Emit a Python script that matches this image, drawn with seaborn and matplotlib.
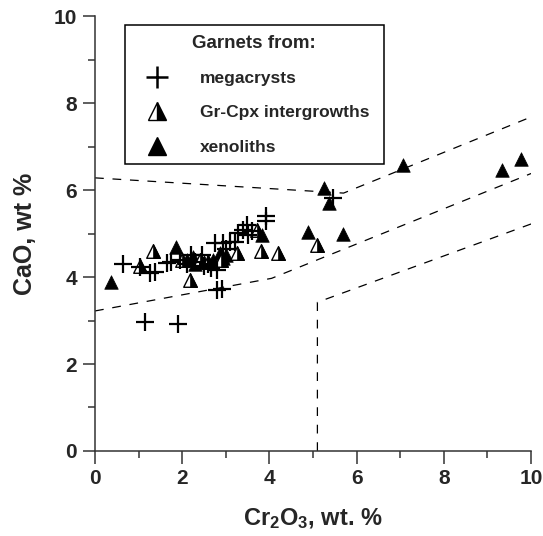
import matplotlib
matplotlib.use("Agg")
import matplotlib.pyplot as plt
import seaborn as sns
import pandas as pd
from matplotlib.lines import Line2D
from matplotlib.markers import MarkerStyle
from matplotlib.patches import Rectangle

# ---------------- data ----------------
mega_x = [0.64, 1.03, 1.26, 1.38, 1.65, 1.15, 1.90, 1.75, 1.95, 2.10, 2.30, 2.45, 2.60, 2.80,
          2.80, 2.91, 2.75, 2.94, 3.10, 3.21, 3.28, 3.39, 3.49, 3.51, 3.92, 3.92, 5.46, 2.20,
          2.50, 3.00, 3.60, 2.65]
mega_y = [4.30, 4.23, 4.09, 4.11, 4.32, 2.97, 2.92, 4.35, 4.40, 4.30, 4.35, 4.50, 4.30, 4.16,
          3.70, 3.72, 4.78, 4.78, 4.80, 4.80, 5.01, 5.08, 5.20, 4.97, 5.40, 5.28, 5.82, 4.50,
          4.25, 4.65, 5.05, 4.20]

inter_x = [1.33, 1.03, 2.00, 2.18, 2.40, 2.60, 3.26, 3.72, 3.81, 4.20, 5.09, 2.90]
inter_y = [4.60, 4.25, 4.40, 3.93, 4.40, 4.35, 4.55, 5.08, 4.60, 4.55, 4.74, 4.40]

xeno_x = [0.37, 1.86, 2.10, 2.30, 2.50, 2.70, 2.87, 2.94, 3.00, 3.83, 4.89, 5.69, 5.25, 5.37,
          7.06, 9.33, 9.77, 2.25]
xeno_y = [3.89, 4.69, 4.40, 4.30, 4.35, 4.40, 4.55, 4.44, 4.50, 4.97, 5.03, 4.99, 6.05, 5.70,
          6.57, 6.46, 6.71, 4.45]

# boundary lines (vertices)
line1_x = [0.0, 5.7, 10.0]
line1_y = [6.28, 5.93, 7.68]
line2_x = [0.0, 4.05, 10.0]
line2_y = [3.22, 3.97, 6.38]
line3_x = [5.1, 5.1, 10.0]
line3_y = [0.0, 3.42, 5.22]

legend_title = "Garnets from:"
labels = ["megacrysts", "Gr-Cpx intergrowths", "xenoliths"]

# ---------------- style ----------------
sns.set_theme(style="ticks")
plt.rcParams["font.family"] = ["Liberation Sans", "DejaVu Sans"]
plt.rcParams["font.weight"] = "bold"
plt.rcParams["mathtext.fontset"] = "custom"
plt.rcParams["mathtext.rm"] = "Liberation Sans:bold"
plt.rcParams["mathtext.it"] = "Liberation Sans:bold"
plt.rcParams["mathtext.bf"] = "Liberation Sans:bold"
plt.rcParams["mathtext.default"] = "rm"

fig = plt.figure(figsize=(5.43, 5.36), dpi=100)
ax = fig.add_axes([0.175, 0.1586, 0.803, 0.8114])

for lx, ly in [(line1_x, line1_y), (line2_x, line2_y), (line3_x, line3_y)]:
    d = pd.DataFrame({"x": lx, "y": ly})
    sns.lineplot(data=d, x="x", y="y", sort=False, estimator=None, ax=ax,
                 color="black", linewidth=0.9, linestyle=(0, (7, 7)))

dm = pd.DataFrame({"x": mega_x, "y": mega_y})
di = pd.DataFrame({"x": inter_x, "y": inter_y})
dx = pd.DataFrame({"x": xeno_x, "y": xeno_y})

sns.scatterplot(data=dx, x="x", y="y", marker="^", s=95, color="black",
                edgecolor="black", linewidth=0.5, ax=ax, zorder=3)
sns.scatterplot(data=di, x="x", y="y", marker="^", s=95, color="white",
                edgecolor="black", linewidth=1.0, ax=ax, zorder=4)
sns.scatterplot(data=di, x="x", y="y", marker=MarkerStyle("^", fillstyle="right"), s=95,
                color="black", edgecolor="black", linewidth=0.5, ax=ax, zorder=5)
sns.scatterplot(data=dm, x="x", y="y", marker="+", s=150, color="black",
                linewidth=1.6, ax=ax, zorder=6)

ax.set_xlim(0, 10)
ax.set_ylim(0, 10)
ax.set_xticks([0, 2, 4, 6, 8, 10])
ax.set_yticks([0, 2, 4, 6, 8, 10])
ax.set_xticks([1, 3, 5, 7, 9], minor=True)
ax.set_yticks([1, 3, 5, 7, 9], minor=True)
ax.tick_params(which="major", direction="out", length=9, width=1.1, labelsize=15,
               color="#333333", pad=4)
ax.tick_params(which="minor", direction="out", length=5, width=1.1, color="#333333")
for lab in ax.get_xticklabels() + ax.get_yticklabels():
    lab.set_fontweight("bold")
sns.despine(ax=ax)
for sp in ["left", "bottom"]:
    ax.spines[sp].set_linewidth(1.1)
    ax.spines[sp].set_color("#333333")

ax.set_xlabel("Cr$_2$O$_3$, wt. %", fontsize=17, fontweight="bold", labelpad=13)
ax.set_ylabel("CaO, wt %", fontsize=18, fontweight="bold", labelpad=12)

# legend frame (drawn as a box in axes coordinates)
frame = Rectangle((0.0688, 0.660), 0.663 - 0.0688, 0.979 - 0.660, transform=ax.transAxes,
                  facecolor="white", edgecolor="black", linewidth=1.1, zorder=7,
                  clip_on=False)
ax.add_patch(frame)

handles = [
    Line2D([], [], linestyle="none", marker="+", markersize=16, markeredgewidth=1.8,
           color="black"),
    Line2D([], [], linestyle="none", marker="^", markersize=13, fillstyle="right",
           markerfacecolor="black", markerfacecoloralt="white", markeredgecolor="black",
           markeredgewidth=1.0),
    Line2D([], [], linestyle="none", marker="^", markersize=13, color="black"),
]
leg = ax.legend(handles, labels, title=legend_title, loc="upper left",
                bbox_to_anchor=(0.0688, 0.9885), frameon=False,
                fontsize=12.5, title_fontsize=13.5,
                labelspacing=1.1, handletextpad=1.43, borderpad=0.8, handlelength=2.08,
                borderaxespad=0)
leg.set_zorder(8)
leg.get_title().set_fontweight("bold")
leg._legend_box.align = "center"
for t in leg.get_texts():
    t.set_fontweight("bold")

fig.savefig("out.png", dpi=100)
